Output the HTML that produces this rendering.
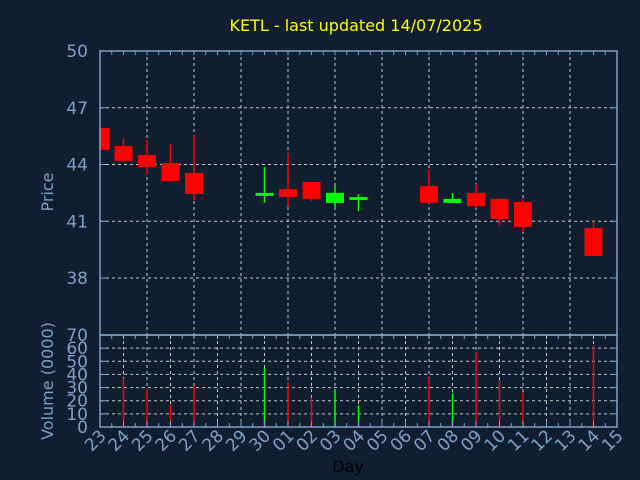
<!DOCTYPE html>
<html><head><meta charset="utf-8"><style>
body{margin:0;background:#101e2f;}
svg{display:block;font-family:"DejaVu Sans","Liberation Sans",sans-serif;}
</style></head><body>
<svg id="chart" width="640" height="480" xmlns="http://www.w3.org/2000/svg">
<rect width="640" height="480" fill="#101e2f"/>
<text x="356" y="31" fill="#ffff00" font-size="16" text-anchor="middle">KETL - last updated 14/07/2025</text>
<text transform="translate(53,192) rotate(-90)" fill="#7fa0c8" font-size="16" text-anchor="middle">Price</text>
<text transform="translate(53,381) rotate(-90)" fill="#7fa0c8" font-size="16" text-anchor="middle">Volume (0000)</text>
<text x="348" y="472" fill="#000000" font-size="16" text-anchor="middle">Day</text>
<g id="g"></g>
</svg>
<script>
const dayLabels=["23","24","25","26","27","28","29","30","01","02","03","04","05","06","07","08","09","10","11","12","13","14","15"];
const priceTicks=[50,47,44,41,38];
const volTicks=[0,10,20,30,40,50,60,70];
const candleDays=[0,1,2,3,4,7,8,9,10,11,14,15,16,17,18,21];
const opens=[45.93,44.98,44.5,44.08,43.55,42.39,42.7,43.08,41.97,42.18,42.86,41.97,42.5,42.18,42.02,40.64];
const closes=[44.77,44.19,43.87,43.13,42.44,42.5,42.28,42.18,42.5,42.28,41.97,42.18,41.8,41.12,40.7,39.16];
const highs=[45.93,45.4,45.3,45.08,45.56,43.87,44.6,43.08,42.86,42.44,43.76,42.5,42.97,42.18,42.18,41.0];
const lows=[44.77,44.13,43.45,43.13,42.12,41.97,41.75,42.07,41.75,41.54,41.97,41.97,41.7,40.75,40.43,39.16];
const volDays=[1,2,3,4,7,8,9,10,11,14,15,16,17,18,21];
const volumes=[37,29,17,31,45,34,22.5,28.5,16.5,37.5,25.5,57,35.5,26.5,62];
const volUp=[0,0,0,0,1,0,0,1,1,0,1,0,0,0,0];

const L=100,R=617,PT=51,PB=335,VT=335,VB=427;
const xs=d=>L+(R-L)*d/22;
const yp=p=>PT+(50-p)*(278-51)/12;
const yv=v=>VB-(VB-VT)*v/70;
const g=document.getElementById('g');
const NS='http://www.w3.org/2000/svg';
function mk(t,a,name){const e=document.createElementNS(NS,t);for(const k in a)e.setAttribute(k,a[k]);


g.appendChild(e);return e;}
const AX='#7fa0c8',GR='#c8c8c8';
// price grid
priceTicks.forEach(p=>{const y=yp(p);
 if(p<50)mk('line',{x1:L,x2:R,y1:y,y2:y,stroke:GR,'stroke-dasharray':'3,3'},'price-gridline');
 mk('line',{x1:L,x2:L+6,y1:y,y2:y,stroke:AX},'price-tick');
 mk('line',{x1:R-6,x2:R,y1:y,y2:y,stroke:AX},'price-tick');
 const t=mk('text',{x:88,y:y+6,fill:AX,'font-size':17,'text-anchor':'end'},'price-tick-label');t.textContent=p;});
for(let d=2;d<22;d+=2)mk('line',{x1:xs(d),x2:xs(d),y1:PT,y2:PB,stroke:GR,'stroke-dasharray':'3,3'},'price-vertical-gridline');
for(let h=1;h<44;h++){const x=L+(R-L)*h/44;mk('line',{x1:x,x2:x,y1:PT,y2:PT+4,stroke:AX},'minor-tick');mk('line',{x1:x,x2:x,y1:VB,y2:VB-4,stroke:AX},'minor-tick');mk('line',{x1:x,x2:x,y1:VT,y2:VT+4,stroke:AX},'minor-tick');}
// volume grid
volTicks.forEach(v=>{const y=yv(v);
 if(v>0&&v<70)mk('line',{x1:L,x2:R,y1:y,y2:y,stroke:GR,'stroke-dasharray':'3,3'},'volume-gridline');
 mk('line',{x1:L,x2:L+6,y1:y,y2:y,stroke:AX},'volume-tick');
 mk('line',{x1:R-6,x2:R,y1:y,y2:y,stroke:AX},'volume-tick');
 const t=mk('text',{x:88,y:y+6,fill:AX,'font-size':17,'text-anchor':'end'},'volume-tick-label');t.textContent=v;});
for(let d=1;d<22;d++)mk('line',{x1:xs(d),x2:xs(d),y1:VT,y2:VB,stroke:GR,'stroke-dasharray':'3,3'},'volume-vertical-gridline');
// candles
candleDays.forEach((d,i)=>{const x=xs(d),up=closes[i]>=opens[i],c=up?'#00ff00':'#ff0000';
 mk('line',{x1:x,x2:x,y1:yp(highs[i]),y2:yp(lows[i]),stroke:c,'stroke-width':1.5},'candle-wick');
 const t=yp(Math.max(opens[i],closes[i])),b=yp(Math.min(opens[i],closes[i]));
 let x0=x-9,w=18;if(x0<L){w-=L-x0;x0=L;}
 mk('rect',{x:x0,y:t,width:w,height:Math.max(b-t,3),fill:c},'candle-body');});
// volume bars
volDays.forEach((d,i)=>{const x=xs(d);mk('line',{x1:x,x2:x,y1:yv(volumes[i]),y2:VB,stroke:volUp[i]?'#00ff00':'#ff0000','stroke-width':1.5},'volume-bar');});
// frames
mk('rect',{x:L,y:PT,width:R-L,height:PB-PT,fill:'none',stroke:AX,'stroke-width':1.5},'price-plot-frame');
mk('rect',{x:L,y:VT,width:R-L,height:VB-VT,fill:'none',stroke:AX,'stroke-width':1.5},'volume-plot-frame');
// x labels
dayLabels.forEach((s,d)=>{const x=xs(d);
 mk('line',{x1:x,x2:x,y1:VB,y2:VB-6,stroke:AX},'x-tick');
 const t=mk('text',{transform:`translate(${x+7},${VB+10}) rotate(-45)`,fill:AX,'font-size':17,'text-anchor':'end'},'x-tick-label');t.textContent=s;});
</script>
</body></html>
